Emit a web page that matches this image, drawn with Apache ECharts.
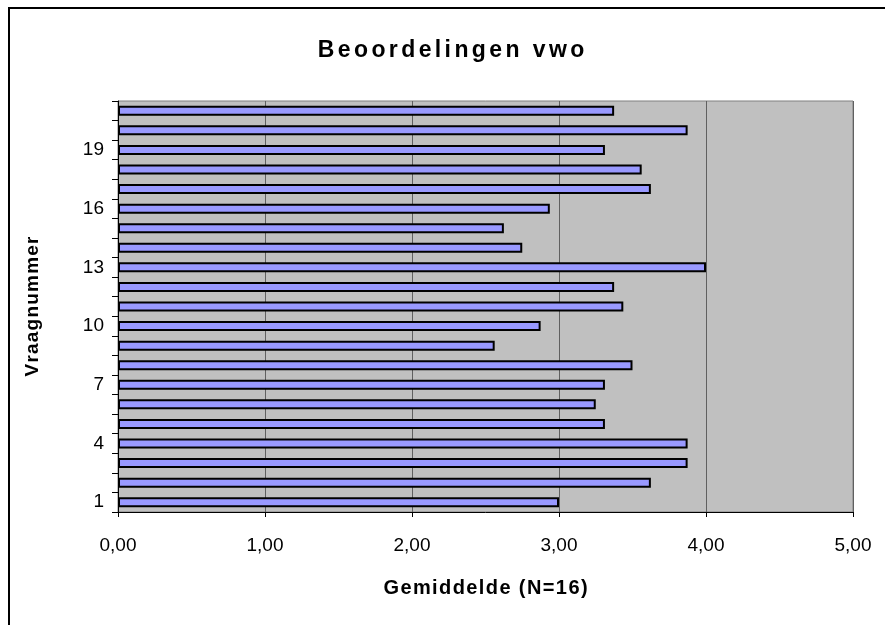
<!DOCTYPE html>
<html>
<head>
<meta charset="utf-8">
<script src="https://cdn.jsdelivr.net/npm/echarts@6/dist/echarts.min.js"></script>
<style>
  html, body { margin: 0; padding: 0; background: #ffffff; }
  #chart { width: 885px; height: 625px; }
</style>
</head>
<body>
<div id="chart"></div>
<script>
// Question numbers (category axis, bottom to top)
const vraagnummers = ['1','2','3','4','5','6','7','8','9','10','11','12','13','14','15','16','17','18','19','20','21'];
// Mean score per question (N = 16)
const gemiddelden = [3.0, 3.625, 3.875, 3.875, 3.3125, 3.25, 3.3125, 3.5, 2.5625, 2.875, 3.4375,
                     3.375, 4.0, 2.75, 2.625, 2.9375, 3.625, 3.5625, 3.3125, 3.875, 3.375];
// Value axis range
const xMin = 0, xMax = 5, xStep = 1;

const titel = 'Beoordelingen vwo';
const xNaam = 'Gemiddelde (N=16)';
const yNaam = 'Vraagnummer';

const font = '"Liberation Sans", Arial, sans-serif';

// Split a string into single-character rich-text tokens so the letters can be spaced out
const spaced = (s, key) => s.split('').map(c => '{' + key + '|' + c + '}').join('');

const chart = echarts.init(document.getElementById('chart'), null, { renderer: 'canvas' });

chart.setOption({
  animation: false,
  backgroundColor: '#ffffff',
  title: {
    text: spaced(titel, 't'),
    left: 446, top: 34, textAlign: 'center',
    textStyle: {
      fontFamily: font, fontSize: 23, fontWeight: 'bold', color: '#000',
      rich: { t: { fontFamily: font, fontSize: 23, fontWeight: 'bold', color: '#000', padding: [0, 1.7, 0, 1.7] } }
    }
  },
  graphic: [{
    type: 'rect',
    shape: { x: 9, y: 8, width: 1000, height: 1000 },
    style: { fill: null, stroke: '#000', lineWidth: 2 },
    silent: true
  }],
  grid: {
    left: 118, right: 32, top: 101, bottom: 113,
    show: true, backgroundColor: '#C0C0C0', borderColor: '#808080', borderWidth: 1
  },
  xAxis: {
    type: 'value', min: xMin, max: xMax, interval: xStep,
    name: spaced(xNaam, 'x'), nameLocation: 'middle', nameGap: 66,
    nameTextStyle: {
      fontFamily: font, fontSize: 20, fontWeight: 'bold', color: '#000',
      rich: { x: { fontFamily: font, fontSize: 20, fontWeight: 'bold', color: '#000', padding: [0, 0.7, 0, 0.7] } }
    },
    axisLine: { show: true, lineStyle: { color: '#000', width: 1 } },
    axisTick: { show: true, length: 5, lineStyle: { color: '#000' } },
    axisLabel: {
      margin: 24, fontFamily: font, fontSize: 19, color: '#000',
      formatter: v => v.toFixed(2).replace('.', ',')
    },
    splitLine: { show: true, lineStyle: { color: '#606060', width: 1 } }
  },
  yAxis: {
    type: 'category', data: vraagnummers, boundaryGap: true,
    name: spaced(yNaam, 'y'), nameLocation: 'middle', nameGap: 76, nameRotate: 90,
    nameTextStyle: {
      fontFamily: font, fontSize: 19, fontWeight: 'bold', color: '#000',
      rich: { y: { fontFamily: font, fontSize: 19, fontWeight: 'bold', color: '#000', padding: [0, 0.6, 0, 0.6] } }
    },
    axisLine: { show: true, lineStyle: { color: '#000', width: 1 } },
    axisTick: { show: true, interval: 0, length: 6, alignWithLabel: false, lineStyle: { color: '#000' } },
    axisLabel: { interval: 2, margin: 14, fontFamily: font, fontSize: 19, color: '#000' },
    splitLine: { show: false }
  },
  series: [{
    type: 'bar',
    data: gemiddelden,
    barWidth: 10,
    itemStyle: { color: '#9999FF', borderColor: '#000', borderWidth: 2 }
  }]
});
</script>
</body>
</html>
